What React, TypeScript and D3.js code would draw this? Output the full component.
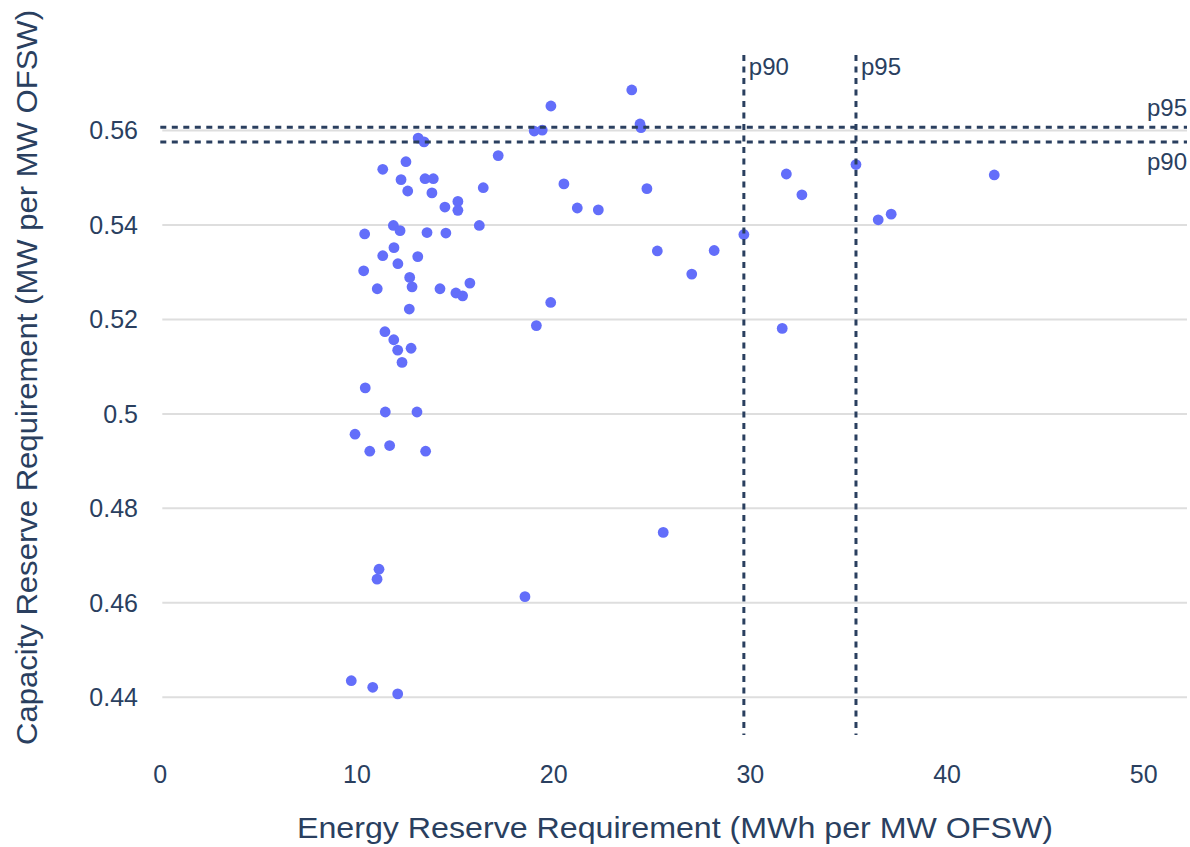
import React from "react";
import * as d3 from "d3";

const energyMWh: number[] = [
  13.11, 13.41, 17.18, 11.31, 12.49, 12.24, 13.46, 13.88, 12.58, 13.81,
  16.42, 14.47, 15.13, 15.13, 11.85, 12.19, 10.39, 13.56, 14.52, 16.22,
  11.88, 11.31, 13.09, 12.08, 10.34, 12.68, 12.80, 11.03, 14.22, 15.74,
  15.03, 15.37, 12.66, 11.42, 11.87, 12.07, 12.75, 12.29, 10.42, 11.44,
  13.05, 9.90, 10.65, 11.66, 13.49, 11.12, 11.02, 18.54, 9.71, 10.80,
  12.07, 23.97, 19.86, 19.01, 19.42, 24.39, 24.44, 20.52, 24.74, 21.20,
  22.27, 29.67, 25.27, 28.16, 27.02, 19.85, 19.12, 31.83, 32.62, 35.37,
  42.40, 36.50, 37.16, 31.62, 25.57,
];

const capacityMW: number[] = [
  0.5584, 0.5576, 0.5547, 0.5518, 0.5534, 0.5496, 0.5498, 0.5498, 0.5472, 0.5468,
  0.5479, 0.5438, 0.545, 0.5431, 0.5399, 0.5388, 0.5381, 0.5384, 0.5383, 0.5399,
  0.5352, 0.5335, 0.5333, 0.5318, 0.5303, 0.5289, 0.5269, 0.5265, 0.5265, 0.5277,
  0.5256, 0.525, 0.5222, 0.5174, 0.5157, 0.5135, 0.5139, 0.5109, 0.5055, 0.5004,
  0.5004, 0.4957, 0.4921, 0.4933, 0.4921, 0.4671, 0.465, 0.4613, 0.4435, 0.4421,
  0.4407, 0.5686, 0.5652, 0.5599, 0.5601, 0.5614, 0.5606, 0.5487, 0.5477, 0.5436,
  0.5432, 0.538, 0.5345, 0.5346, 0.5296, 0.5236, 0.5187, 0.5508, 0.5464, 0.5528,
  0.5506, 0.5411, 0.5423, 0.5181, 0.4749,
];

const xTicks: number[] = [0, 10, 20, 30, 40, 50];
const yTicks: number[] = [0.44, 0.46, 0.48, 0.5, 0.52, 0.54, 0.56];

const energyPercentiles = [
  { label: "p90", value: 29.67 },
  { label: "p95", value: 35.37 },
];
const capacityPercentiles = [
  { label: "p95", value: 0.5607 },
  { label: "p90", value: 0.5576 },
];

const xTitle = "Energy Reserve Requirement (MWh per MW OFSW)";
const yTitle = "Capacity Reserve Requirement (MW per MW OFSW)";

const W = 1190;
const H = 847;
const left = 160.3;
const right = 1187;
const top = 55;
const bottom = 735;

const TEXT = "#2a3f5f";
const LINE = "#2a3f5f";
const DOT = "#636efa";
const FONT = "'Liberation Sans', Arial, Helvetica, sans-serif";

export default function App() {
  const x = d3.scaleLinear().domain([0, 52.2]).range([left, right]);
  const y = d3.scaleLinear().domain([0.432, 0.576]).range([bottom, top]);
  const fmt = d3.format("~g");

  return (
    <svg
      width={W}
      height={H}
      style={{ position: "absolute", left: 0, top: 0, background: "#fff" }}
      fontFamily={FONT}
    >
      {yTicks.map((t) => (
        <line
          key={"g" + t}
          x1={left + 2}
          x2={right}
          y1={y(t)}
          y2={y(t)}
          stroke="#dedede"
          strokeWidth={2}
        />
      ))}
      {yTicks.map((t) => (
        <text
          key={"yl" + t}
          x={138}
          y={y(t)}
          dy="0.35em"
          textAnchor="end"
          fontSize={25}
          fill={TEXT}
        >
          {fmt(t)}
        </text>
      ))}
      {xTicks.map((t) => (
        <text
          key={"xl" + t}
          x={x(t)}
          y={783}
          textAnchor="middle"
          fontSize={25}
          fill={TEXT}
        >
          {t}
        </text>
      ))}
      {energyMWh.map((e, i) => (
        <circle key={"p" + i} cx={x(e)} cy={y(capacityMW[i])} r={5.4} fill={DOT} />
      ))}
      {capacityPercentiles.map((p) => (
        <line
          key={"h" + p.label}
          x1={left}
          x2={right}
          y1={y(p.value)}
          y2={y(p.value)}
          stroke={LINE}
          strokeWidth={3}
          strokeDasharray="6,5.5"
        />
      ))}
      {energyPercentiles.map((p) => (
        <line
          key={"v" + p.label}
          x1={x(p.value)}
          x2={x(p.value)}
          y1={top}
          y2={bottom}
          stroke={LINE}
          strokeWidth={3}
          strokeDasharray="6,5.5"
        />
      ))}
      {energyPercentiles.map((p) => (
        <text
          key={"vl" + p.label}
          x={x(p.value) + 5}
          y={75}
          fontSize={24}
          fill={TEXT}
        >
          {p.label}
        </text>
      ))}
      {capacityPercentiles.map((p, i) => (
        <text
          key={"hl" + p.label}
          x={right}
          y={i === 0 ? y(p.value) - 11 : y(p.value) + 28}
          textAnchor="end"
          fontSize={24}
          fill={TEXT}
        >
          {p.label}
        </text>
      ))}
      <text
        x={675}
        y={838}
        textAnchor="middle"
        fontSize={29}
        fill={TEXT}
        textLength={756}
        lengthAdjust="spacingAndGlyphs"
      >
        {xTitle}
      </text>
      <text
        transform={`translate(36.5,377.5) rotate(-90)`}
        textAnchor="middle"
        fontSize={29}
        fill={TEXT}
        textLength={735}
        lengthAdjust="spacingAndGlyphs"
      >
        {yTitle}
      </text>
    </svg>
  );
}
